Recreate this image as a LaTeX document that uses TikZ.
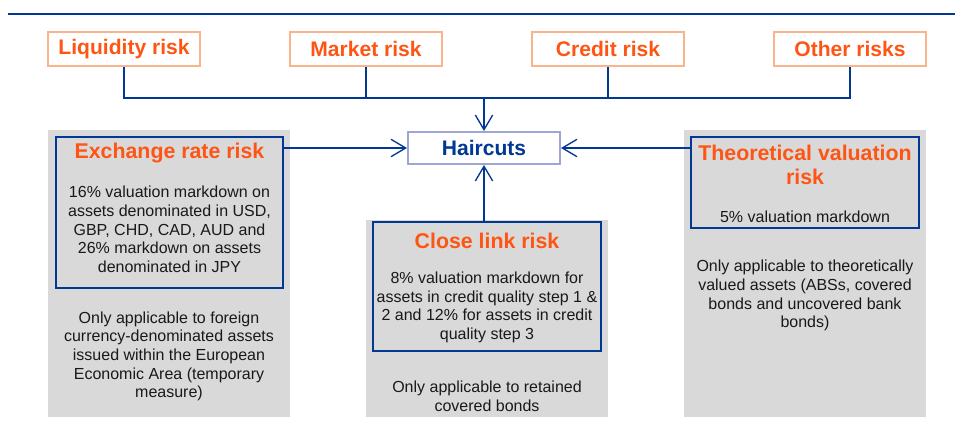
\documentclass[tikz,border=0pt]{standalone}
\usepackage{fontspec}
\setmainfont{Liberation Sans}
\usetikzlibrary{arrows.meta,positioning,calc}

\definecolor{ecbblue}{RGB}{0,56,147}
\definecolor{riskorange}{RGB}{255,85,20}
\definecolor{boxorange}{RGB}{250,180,140}
\definecolor{hcborder}{RGB}{160,165,215}
\definecolor{panelgray}{RGB}{217,217,217}
\definecolor{bodytext}{RGB}{25,25,25}

\begin{document}
\begin{tikzpicture}[
  x=0.75pt, y=-0.75pt,
  >={Straight Barb[length=11pt,width=13pt,line width=1pt]},
  link/.style={draw=ecbblue, line width=1.3pt},
  riskbox/.style={rectangle, draw=boxorange, line width=1.5pt, fill=white, minimum width=114pt, minimum height=25.5pt, inner sep=0pt, text=riskorange, font=\fontsize{15.8}{18}\selectfont\bfseries},
  haircut/.style={rectangle, draw=hcborder, line width=1.5pt, fill=white, minimum width=114pt, minimum height=24pt, inner sep=0pt, text=ecbblue, font=\fontsize{15.8}{18}\selectfont\bfseries},
  panel/.style={fill=panelgray},
  infobox/.style={rectangle, draw=ecbblue, line width=1.3pt, inner sep=0pt},
  heading/.style={text=riskorange, font=\fontsize{16}{18.5}\selectfont\bfseries, align=center, inner sep=0pt},
  note/.style={text=bodytext, font=\fontsize{12}{14}\selectfont, align=center, inner sep=0pt}
]
\useasboundingbox (0,0) rectangle (955,431);

\draw[ecbblue, line width=1.5pt] (8,14) -- (955,14);

% gray panels
\fill[panel] (48,130) rectangle (290,417);
\fill[panel] (366,220) rectangle (608,417);
\fill[panel] (684,130) rectangle (926,417);

% risk types on top
\node[riskbox] (liq) at (124,49) {Liquidity risk};
\node[riskbox] (mkt) at (366,49) {Market risk};
\node[riskbox] (crd) at (608,49) {Credit risk};
\node[riskbox] (oth) at (850,49) {Other risks};

\node[haircut] (hc) at (484,148) {Haircuts};

\coordinate (join) at (484,98);

% boxes
\node[infobox, minimum width=170.25pt, minimum height=113.25pt] (exbox) at (169.5,212.5) {};
\node[infobox, minimum width=171pt, minimum height=96.75pt] (clbox) at (487,286.5) {};
\node[infobox, minimum width=171pt, minimum height=68.25pt] (tvbox) at (805,182.5) {};

\node[heading] (ext) at (169.5,153) {Exchange rate risk};
\node[note] (exn) at (169.5,229.5) {16\% valuation markdown on\\assets denominated in USD,\\GBP, CHD, CAD, AUD and\\26\% markdown on assets\\denominated in JPY};
\node[note] (exo) at (169,356.5) {Only applicable to foreign\\currency-denominated assets\\issued within the European\\Economic Area (temporary\\measure)};

\node[heading] (clt) at (487,240.7) {Close link risk};
\node[note] (cln) at (487,307.3) {8\% valuation markdown for\\assets in credit quality step 1 \&\\2 and 12\% for assets in credit\\quality step 3};
\node[note] (clo) at (487,396) {Only applicable to retained\\covered bonds};

\node[heading] (tvt) at (805,165) {Theoretical valuation\\risk};
\node[note] (tvn) at (805,216.7) {5\% valuation markdown};
\node[note] (tvo) at (805,295.7) {Only applicable to theoretically\\valued assets (ABSs, covered\\bonds and uncovered bank\\bonds)};

% connectors
\draw[link] (liq.south) |- (join) -| (oth.south);
\draw[link] (mkt.south) -- (mkt.south |- join);
\draw[link] (crd.south) -- (crd.south |- join);
\draw[link,->] (join) -- (hc.north);
\draw[link,->] (exbox.east |- hc.west) -- (hc.west);
\draw[link,->] (tvbox.west |- hc.east) -- (hc.east);
\draw[link,->] (hc.south |- clbox.north) -- (hc.south);

\end{tikzpicture}
\end{document}
